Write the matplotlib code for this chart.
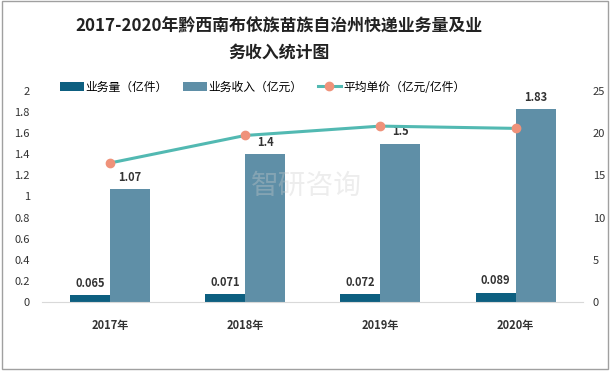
import matplotlib
matplotlib.use("Agg")
import matplotlib.pyplot as plt
from matplotlib.patches import Rectangle
import numpy as np

plt.rcParams['font.family'] = ['Noto Sans CJK SC', 'DejaVu Sans']

categories = ['2017年', '2018年', '2019年', '2020年']
volume = [0.065, 0.071, 0.072, 0.089]
revenue = [1.07, 1.4, 1.5, 1.83]
unit_price = [16.46, 19.72, 20.83, 20.56]
left_ticks = [0, 0.2, 0.4, 0.6, 0.8, 1, 1.2, 1.4, 1.6, 1.8, 2]
right_ticks = [0, 5, 10, 15, 20, 25]

c_dark = '#0d5f80'
c_light = '#5f8fa7'
c_line = '#52b9b2'
c_marker = '#ef927a'

fig = plt.figure(figsize=(6.12, 3.71), dpi=100)
fig.patches.append(Rectangle((0.004, 0.006), 0.99, 0.99, transform=fig.transFigure,
                             fill=False, edgecolor='#a0a0a0', lw=1))
ax = fig.add_axes([0.069, 0.186, 0.884, 0.569])
ax2 = ax.twinx()

x = np.arange(len(categories))
w = 0.296
b1 = ax.bar(x - w / 2, volume, w, color=c_dark, label='业务量（亿件）', zorder=2)
b2 = ax.bar(x + w / 2, revenue, w, color=c_light, label='业务收入（亿元）', zorder=2)
for xi, v in zip(x, volume):
    ax.text(xi - w / 2, v + 0.05, f'{v:g}', ha='center', va='bottom', fontsize=8,
            fontweight='bold', color='#333333')
for xi, v in zip(x, revenue):
    ax.text(xi + w / 2, v + 0.05, f'{v:g}', ha='center', va='bottom', fontsize=8,
            fontweight='bold', color='#333333')

ln, = ax2.plot(x, unit_price, color=c_line, lw=2.2, marker='o', markersize=6,
               markerfacecolor=c_marker, markeredgecolor=c_marker, label='平均单价（亿元/亿件）', zorder=3)

ax.set_xlim(-0.5, 3.5)
ax.set_ylim(0, 2)
ax2.set_ylim(0, 25)
ax.set_yticks(left_ticks)
ax.set_yticklabels([f'{t:g}' for t in left_ticks])
ax2.set_yticks(right_ticks)
ax.set_xticks(x)
ax.set_xticklabels(categories, fontsize=8.5, fontweight='bold', color='#333333')
for a in (ax, ax2):
    for s in a.spines.values():
        s.set_visible(False)
    a.tick_params(length=0, labelsize=8, colors='#333333')
ax.spines['bottom'].set_visible(True)
ax.spines['bottom'].set_color('#d9d9d9')
ax.tick_params(axis='x', pad=12)
ax.tick_params(axis='y', pad=9)
ax2.tick_params(axis='y', pad=7)

fig.text(0.455, 0.93, '2017-2020年黔西南布依族苗族自治州快递业务量及业', ha='center', va='center',
         fontsize=12.2, fontweight='bold', color='#222222')
fig.text(0.455, 0.858, '务收入统计图', ha='center', va='center',
         fontsize=12.2, fontweight='bold', color='#222222')

fig.legend(handles=[b1, b2, ln], loc='center left', bbox_to_anchor=(0.098, 0.765), ncol=3,
           frameon=False, fontsize=8.5, handlelength=2.0, handleheight=0.8, columnspacing=1.3,
           handletextpad=0.15, borderaxespad=0, borderpad=0)

fig.text(0.5, 0.5, '智研咨询', ha='center', va='center', fontsize=20, color='#cccccc', alpha=0.35)

fig.savefig('out.png', dpi=100)
